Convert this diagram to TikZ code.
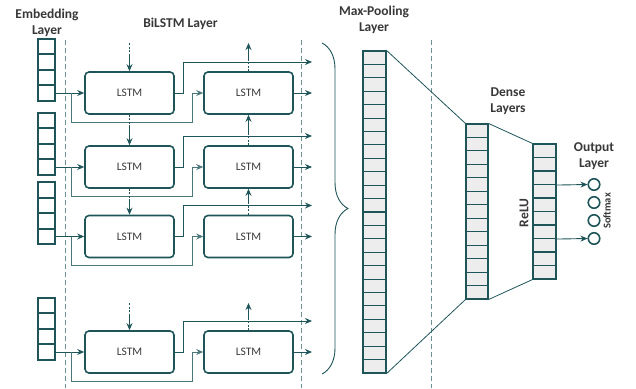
\documentclass[tikz,border=0pt]{standalone}
\usepackage{fontspec}
\setmainfont{Carlito}
\usepackage{tikz}
\usetikzlibrary{arrows.meta, positioning, decorations.pathreplacing}
\definecolor{netc}{HTML}{1F5559}
\definecolor{sepc}{HTML}{6A9194}
\definecolor{cellc}{HTML}{ECEDEC}
\definecolor{txtc}{HTML}{383838}
\tikzstyle{arrow}  = [netc, line width=0.9pt, -{Stealth[length=7pt,width=6pt]}]
\tikzstyle{link}   = [netc, line width=0.9pt]
\tikzstyle{vlink}  = [arrow, dash pattern=on 2pt off 1.5pt on 2pt off 1.5pt on 2pt off 1.5pt on 80pt off 0pt]
\tikzstyle{lstm}   = [draw=netc, line width=1.6pt, rounded corners=4pt, minimum width=89pt, minimum height=42pt, inner sep=0pt, text=txtc, font=\fontsize{11.5}{12}\selectfont]
\tikzstyle{emb}    = [draw=netc, line width=1.6pt, fill=white, minimum width=17pt, minimum height=15.5pt, inner sep=0pt]
\tikzstyle{cell}   = [draw=netc, line width=1.1pt, fill=cellc, inner sep=0pt]
\tikzstyle{unit}   = [circle, draw=netc, line width=1.6pt, minimum size=11.5pt, inner sep=0pt]
\tikzstyle{lbl}    = [text=txtc, font=\bfseries\fontsize{13.5}{16}\selectfont, align=center]
\tikzstyle{sep}    = [sepc, line width=0.9pt, dash pattern=on 5pt off 3pt]

\begin{document}
\begin{tikzpicture}[x=1pt, y=-1pt]
  \useasboundingbox (0,0) rectangle (636,388);
  % Separators
  \foreach \x in {65,301,431}
    \draw[sep] (\x,40) -- (\x,388);
  % BiLSTM rows
  \foreach \i/\y in {1/93,2/167,3/236.5,4/352}{
    \foreach \k in {1,...,4}
      \node[emb] (e\i-\k) at (46.5,\y-15.5*\k+15.5) {};
    \node[lstm] (L\i) at (129.5,\y) {LSTM};
    \node[lstm] (R\i) at (248.5,\y) {LSTM};
    \coordinate (b\i) at (71,\y);
    \coordinate (c\i) at (192,\y+29);
    \coordinate (o\i) at (312,\y-31);
    \coordinate (q\i) at (312,\y);
    \draw[arrow] (e\i-1.east) -- (L\i.west);
    \draw[arrow, netc!80] (b\i) |- (c\i) |- (R\i.west);
    \draw[arrow] (L\i.east) -- ++(9,0) |- (o\i);
    \draw[arrow] (R\i.east) -- (q\i);
  }
  % Vertical links
  \coordinate (t1) at (129.5,43);
  \coordinate (t4) at (129.5,303);
  \coordinate (u1) at (248.5,43);
  \coordinate (u4) at (248.5,303);
  \draw[vlink] (t1) -- (L1.north);
  \draw[vlink] (t4) -- (L4.north);
  \draw[vlink] (R1.north) -- (u1);
  \draw[vlink] (R4.north) -- (u4);
  \foreach \a/\b in {1/2,2/3}{
    \draw[vlink] (L\a.south) -- (L\b.north);
    \draw[vlink] (R\b.north) -- (R\a.south);
  }
  % Brace
  \draw[link, decorate, decoration={brace, amplitude=26pt}] (322,43) -- (322,374);
  % Max-pooling and dense columns
  \foreach \k in {0,...,23}
    \node[cell, minimum width=23pt, minimum height=13.417pt] (m\k) at (374.5,57.7+13.417*\k) {};
  \draw[netc, line width=1.6pt] (m0.north west) rectangle (m23.south east);
  \foreach \k in {0,...,12}
    \node[cell, minimum width=22pt, minimum height=13.46pt] (da\k) at (477,130.73+13.46*\k) {};
  \draw[netc, line width=1.6pt] (da0.north west) rectangle (da12.south east);
  \foreach \k in {0,...,9}
    \node[cell, minimum width=23pt, minimum height=13.5pt] (db\k) at (544.5,150.75+13.5*\k) {};
  \draw[netc, line width=1.6pt] (db0.north west) rectangle (db9.south east);
  \draw[link, line width=0.8pt] (m0.north east) -- (da0.north west) (da0.north east) -- (db0.north west);
  \draw[link, line width=0.8pt] (m23.south east) -- (da12.south west) (da12.south east) -- (db9.south west);
  % Output
  \foreach \k/\y in {1/184.5,2/202.5,3/220.5,4/238.5}
    \node[unit] (s\k) at (594,\y) {};
  \draw[arrow] (db2.south east) -- (s1.west);
  \draw[arrow] (db6.south east) -- (s4.west);
  % Labels
  \node[lbl] (embL) at (47,23) {Embedding\\Layer};
  \node[lbl] (bilL) at (180.5,24) {BiLSTM Layer};
  \node[lbl] (poolL) at (374,20) {Max-Pooling\\Layer};
  \node[lbl] (denL) at (508,101.5) {Dense\\Layers};
  \node[lbl] (outL) at (594,156) {Output\\Layer};
  \node[lbl, rotate=90] (relu) at (524,213) {ReLU};
  \node[lbl, rotate=90, font=\bfseries\fontsize{10.5}{12}\selectfont] (smax) at (607,211) {Softmax};
\end{tikzpicture}
\end{document}
